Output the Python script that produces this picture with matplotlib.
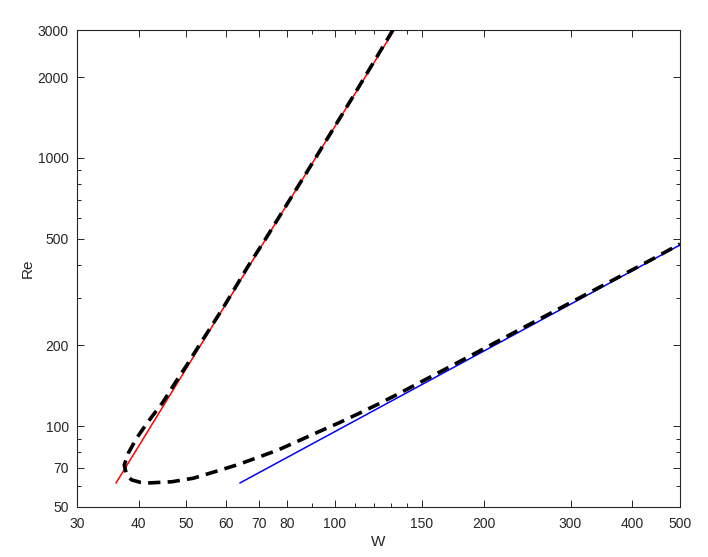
import matplotlib
matplotlib.use("Agg")
import matplotlib.pyplot as plt
from matplotlib.ticker import FixedLocator, FixedFormatter, NullFormatter

plt.rcParams['font.family'] = ['Liberation Sans', 'DejaVu Sans']

# Dashed curve (W, Re), ordered along the curve: upper branch down, turning point, lower branch
curve_W = [131.0, 107.7, 88.2, 72.1, 66.3, 59.3, 52.8, 50.1, 47.4, 44.8, 41.8, 39.6, 38.1,
           37.4, 37.8, 38.7, 40.3, 42.2, 46.7, 51.6, 57.1, 63.2, 69.6, 76.7, 84.2, 92.8,
           102.0, 112.0, 123.3, 134.2, 175.1, 210.9, 256.6, 309.3, 365.8, 440.9, 500.0]
curve_Re = [3000, 1645, 902, 495, 389, 276, 197.5, 169.2, 145, 123, 104.0, 90.2, 79.3,
            71.7, 65.8, 63.1, 61.8, 61.5, 62.1, 64.0, 67.7, 71.7, 76.4, 81.6, 88.1, 95.5,
            103.1, 111.8, 121.8, 131.9, 170.7, 204.8, 248.1, 297.7, 350.7, 421.0, 478.0]

# Red asymptote (upper branch)
red_W = [36.0, 131.7]
red_Re = [61.5, 3000]

# Blue asymptote (lower branch)
blue_W = [64.2, 500]
blue_Re = [61.5, 474]

x_ticks = [30, 40, 50, 60, 70, 80, 100, 150, 200, 300, 400, 500]
x_minor = [90, 110, 120, 130, 140]
y_ticks = [50, 70, 100, 200, 500, 1000, 2000, 3000]
y_minor = [60, 80, 90, 300, 400, 600, 700, 800, 900]

fig = plt.figure(figsize=(7.08, 5.57), dpi=100)
ax = fig.add_axes([77/708, 50/557, 603/708, 477/557])
ax.set_xscale('log')
ax.set_yscale('log')

ax.plot(red_W, red_Re, color='#ff0000', lw=1.1, zorder=2)
ax.plot(blue_W, blue_Re, color='#0000ff', lw=1.1, zorder=2)
ax.plot(curve_W, curve_Re, color='black', lw=2.6, dashes=(3.4, 2.0), zorder=3)

ax.set_xlim(30, 500)
ax.set_ylim(50, 3000)

ax.xaxis.set_major_locator(FixedLocator(x_ticks))
ax.xaxis.set_major_formatter(FixedFormatter([str(v) for v in x_ticks]))
ax.xaxis.set_minor_locator(FixedLocator(x_minor))
ax.xaxis.set_minor_formatter(NullFormatter())
ax.yaxis.set_major_locator(FixedLocator(y_ticks))
ax.yaxis.set_major_formatter(FixedFormatter([str(v) for v in y_ticks]))
ax.yaxis.set_minor_locator(FixedLocator(y_minor))
ax.yaxis.set_minor_formatter(NullFormatter())

c = '#262626'
for s in ax.spines.values():
    s.set_color(c)
    s.set_linewidth(0.8)
ax.tick_params(which='both', direction='in', top=True, right=True, colors=c,
               labelcolor=c, labelsize=10, width=0.7)
ax.tick_params(which='major', length=5)
ax.tick_params(axis='x', which='major', pad=7)
ax.tick_params(axis='y', which='major', pad=6)
ax.tick_params(which='minor', length=3)

ax.set_xlabel('W', fontsize=11, color=c, labelpad=3)
ax.set_ylabel('Re', fontsize=11, color=c, labelpad=2)

fig.savefig('out.png', dpi=100)
